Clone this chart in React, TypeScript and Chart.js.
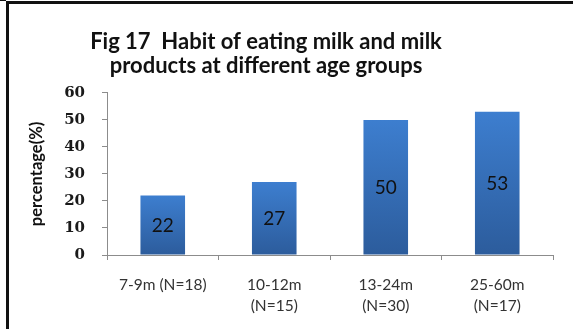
import React, { useEffect, useRef } from "react";
import { Chart, registerables } from "chart.js";

Chart.register(...registerables);

const categories: (string | string[])[] = [
  "7-9m (N=18)",
  ["10-12m", "(N=15)"],
  ["13-24m", "(N=30)"],
  ["25-60m", "(N=17)"],
];
const values: number[] = [22, 27, 50, 53];
const titleLines: string[] = [
  "Fig 17  Habit of eating milk and milk",
  "products at different age groups",
];
const yAxisTitle = "percentage(%)";
const yMin = 0;
const yMax = 60;
const yStep = 10;

const framePlugin = {
  id: "frame",
  beforeDraw(chart: any) {
    const c = chart.ctx;
    c.save();
    c.fillStyle = "#ffffff";
    c.fillRect(0, 0, chart.width, chart.height);
    c.fillStyle = "#111111";
    c.fillRect(0, 0, 6, 1);
    c.fillRect(6, 1, chart.width - 6, 3);
    c.fillRect(6, 1, 3, chart.height - 1);
    c.restore();
  },
};

// shift the title's box so its centre sits where the reference's does
const titlePlacePlugin = {
  id: "titlePlace",
  afterLayout(chart: any) {
    const tb = chart.titleBlock;
    if (tb) {
      tb.left = 0;
      tb.right = 532;
    }
  },
};

const valueLabelPlugin = {
  id: "valueLabels",
  afterDatasetsDraw(chart: any) {
    const c = chart.ctx;
    const meta = chart.getDatasetMeta(0);
    c.save();
    c.font = "19px Lato";
    c.fillStyle = "#111111";
    c.textAlign = "center";
    c.textBaseline = "middle";
    meta.data.forEach((bar: any, i: number) => {
      const { x, y, base } = bar.getProps(["x", "y", "base"], true);
      c.fillText(String(values[i]), x, (y + base) / 2 + 1);
    });
    c.restore();
  },
};

export default function App() {
  const ref = useRef<HTMLCanvasElement | null>(null);

  useEffect(() => {
    if (!ref.current) return;
    const chart = new Chart(ref.current, {
      type: "bar",
      data: {
        labels: categories,
        datasets: [
          {
            data: values,
            backgroundColor: (ctx: any) => {
              const chart = ctx.chart;
              const ys = chart.scales?.y;
              if (!chart.chartArea || !ys || ctx.raw == null) return "#3570bd";
              const top = ys.getPixelForValue(ctx.raw);
              const bottom = ys.getPixelForValue(0);
              const g = chart.ctx.createLinearGradient(0, top, 0, bottom);
              g.addColorStop(0, "#3d7ecf");
              g.addColorStop(1, "#2c5c9c");
              return g;
            },
            borderWidth: 0,
            categoryPercentage: 0.8,
            barPercentage: 0.5,
          },
        ],
      },
      options: {
        responsive: false,
        animation: false,
        layout: { padding: { left: 0, right: 20, top: 0, bottom: 0 } },
        plugins: {
          legend: { display: false },
          tooltip: { enabled: false },
          title: {
            display: true,
            text: titleLines,
            color: "#111111",
            font: { family: "Lato", size: 22, weight: "bold", lineHeight: 1.09 },
            padding: { top: 30, bottom: 15 },
          },
        },
        scales: {
          x: {
            grid: {
              display: true,
              drawOnChartArea: false,
              drawTicks: true,
              tickLength: 5,
              color: "#8c8c8c",
              offset: true,
            },
            border: { display: true, color: "#8c8c8c", width: 1 },
            ticks: {
              color: "#333333",
              font: { family: "Lato", size: 15.5, lineHeight: 1.35 },
              padding: 15,
              maxRotation: 0,
              autoSkip: false,
            },
            afterFit: (scale: any) => {
              scale.height = 74;
            },
          },
          y: {
            min: yMin,
            max: yMax,
            grid: {
              display: true,
              drawOnChartArea: false,
              drawTicks: true,
              tickLength: 5,
              color: "#8c8c8c",
            },
            border: { display: true, color: "#8c8c8c", width: 1 },
            ticks: {
              stepSize: yStep,
              color: "#1a1a1a",
              font: { family: "DejaVu Serif", size: 15, weight: "bold" },
              padding: 17,
            },
            title: {
              display: true,
              text: yAxisTitle,
              color: "#111111",
              font: { family: "Lato", size: 16.5, weight: "bold", lineHeight: 1.2 },
              padding: { top: 27, bottom: 4 },
            },
            afterFit: (scale: any) => {
              scale.width = 107;
            },
          },
        },
      },
      plugins: [framePlugin, titlePlacePlugin, valueLabelPlugin],
    });
    return () => chart.destroy();
  }, []);

  return (
    <div style={{ position: "fixed", left: 0, top: 0, width: 573, height: 329, background: "#fff" }}>
      <canvas ref={ref} width={573} height={329} style={{ display: "block" }} />
    </div>
  );
}
